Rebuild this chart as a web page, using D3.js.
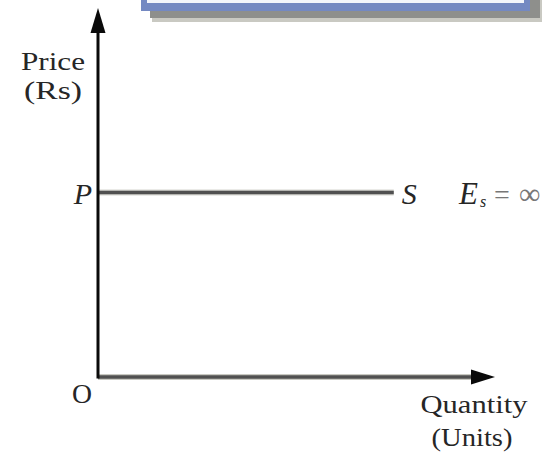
<!DOCTYPE html>
<html>
<head>
<meta charset="utf-8">
<script src="https://cdn.jsdelivr.net/npm/d3@7"></script>
<style>
  html, body { margin: 0; padding: 0; background: #ffffff; }
  svg { display: block; }
  text { font-family: "Liberation Serif", "DejaVu Serif", serif; fill: #262626; }
</style>
</head>
<body>
<svg id="chart" width="551" height="454"></svg>
<script>
// Perfectly elastic supply: a horizontal supply curve at price P.
const quantityDomain = [0, 10];
const priceDomain = [0, 10];
const supplyQuantity = [0, 7.45];
const supplyPrice = [5, 5];
const priceTickValues = [5];
const priceTickLabels = ["P"];
const curveLabel = "S";
const elasticityLabel = ["E", "s", "=", "\u221E"];
const yAxisTitle = ["Price", "(Rs)"];
const xAxisTitle = ["Quantity", "(Units)"];
const originLabel = "O";

const svg = d3.select("#chart");

const x = d3.scaleLinear().domain(quantityDomain).range([98, 495]);
const y = d3.scaleLinear().domain(priceDomain).range([377, 8]);

// Title box edge peeking in at the top of the page
const boxG = svg.append("g");
boxG.append("rect")
  .attr("x", 152).attr("y", -20).attr("width", 390).attr("height", 42)
  .attr("fill", "#c9c9c2");
boxG.append("rect")
  .attr("x", 150).attr("y", -20).attr("width", 390).attr("height", 38)
  .attr("fill", "#8e8f8c");
boxG.append("rect")
  .attr("x", 141).attr("y", -20).attr("width", 389).attr("height", 31)
  .attr("fill", "#7489c2");
boxG.append("rect")
  .attr("x", 147).attr("y", -20).attr("width", 377).attr("height", 23)
  .attr("fill", "#f3f5fb");

// Price axis (drawn with a D3 axis for the P tick) and its arrow
const yAxis = d3.axisLeft(y)
  .tickValues(priceTickValues)
  .tickFormat((d, i) => priceTickLabels[i])
  .tickSize(0)
  .tickPadding(6);
const yAxisG = svg.append("g")
  .attr("transform", `translate(${x(0)},0)`)
  .call(yAxis);
yAxisG.select(".domain").remove();
yAxisG.selectAll(".tick text")
  .attr("font-family", "Liberation Serif")
  .attr("font-style", "italic")
  .attr("font-size", 30)
  .attr("fill", "#262626")
  .attr("dy", "0.35em");

// Supply curve S
const line = d3.line().x(d => x(d[0])).y(d => y(d[1]));
svg.append("path")
  .datum(d3.zip(supplyQuantity, supplyPrice))
  .attr("d", line)
  .attr("fill", "none")
  .attr("stroke", "#d6d6d0")
  .attr("stroke-width", 6);
svg.append("path")
  .datum(d3.zip(supplyQuantity, supplyPrice))
  .attr("d", line)
  .attr("fill", "none")
  .attr("stroke", "#505050")
  .attr("stroke-width", 3.5);

// Quantity axis line with arrowhead
const xEnd = x(quantityDomain[1]);
svg.append("line")
  .attr("x1", x(0)).attr("x2", xEnd - 20)
  .attr("y1", y(0)).attr("y2", y(0))
  .attr("stroke", "#c9c9c2").attr("stroke-width", 6);
svg.append("line")
  .attr("x1", x(0)).attr("x2", xEnd - 20)
  .attr("y1", y(0)).attr("y2", y(0))
  .attr("stroke", "#505050").attr("stroke-width", 3.5);
svg.append("path")
  .attr("d", `M${xEnd},${y(0)} L${xEnd - 24},${y(0) - 7.5} L${xEnd - 24},${y(0) + 7.5} Z`)
  .attr("fill", "#0a0a0a");

// Price axis line with arrowhead
const yTop = y(priceDomain[1]);
svg.append("line")
  .attr("x1", x(0)).attr("x2", x(0))
  .attr("y1", y(0) + 1.5).attr("y2", yTop + 20)
  .attr("stroke", "#0a0a0a").attr("stroke-width", 3);
svg.append("path")
  .attr("d", `M${x(0)},${yTop} L${x(0) - 7.5},${yTop + 25} L${x(0) + 7.5},${yTop + 25} Z`)
  .attr("fill", "#0a0a0a");

// Axis titles
const yTitle = svg.append("text").attr("text-anchor", "middle").attr("font-size", 26);
yTitle.append("tspan").attr("x", 53).attr("y", 70)
  .attr("textLength", 64).attr("lengthAdjust", "spacingAndGlyphs").text(yAxisTitle[0]);
yTitle.append("tspan").attr("x", 53).attr("y", 99)
  .attr("textLength", 58).attr("lengthAdjust", "spacingAndGlyphs").text(yAxisTitle[1]);

const xTitle = svg.append("text").attr("text-anchor", "middle").attr("font-size", 26);
xTitle.append("tspan").attr("x", 474).attr("y", 413)
  .attr("textLength", 107).attr("lengthAdjust", "spacingAndGlyphs").text(xAxisTitle[0]);
xTitle.append("tspan").attr("x", 472).attr("y", 446)
  .attr("textLength", 81).attr("lengthAdjust", "spacingAndGlyphs").text(xAxisTitle[1]);

// Origin
svg.append("text")
  .attr("x", x(0) - 16).attr("y", y(0) + 26)
  .attr("text-anchor", "middle")
  .attr("font-size", 27)
  .attr("textLength", 20).attr("lengthAdjust", "spacingAndGlyphs")
  .text(originLabel);

// Curve label and elasticity annotation
const labelY = y(supplyPrice[1]) + 11;
svg.append("text")
  .attr("x", x(supplyQuantity[1]) + 8).attr("y", labelY)
  .attr("font-size", 30).attr("font-style", "italic")
  .text(curveLabel);

const ann = svg.append("text").attr("y", labelY).attr("fill", "#333333");
ann.append("tspan").attr("x", 459).attr("font-size", 31).attr("font-style", "italic").text(elasticityLabel[0]);
ann.append("tspan").attr("x", 480).attr("dy", 3).attr("font-size", 16).attr("font-style", "italic").text(elasticityLabel[1]);
ann.append("tspan").attr("x", 494).attr("dy", -3).attr("font-size", 28).attr("fill", "#777777").text(elasticityLabel[2]);
ann.append("tspan").attr("x", 519).attr("font-size", 30).attr("fill", "#777777").text(elasticityLabel[3]);
</script>
</body>
</html>
